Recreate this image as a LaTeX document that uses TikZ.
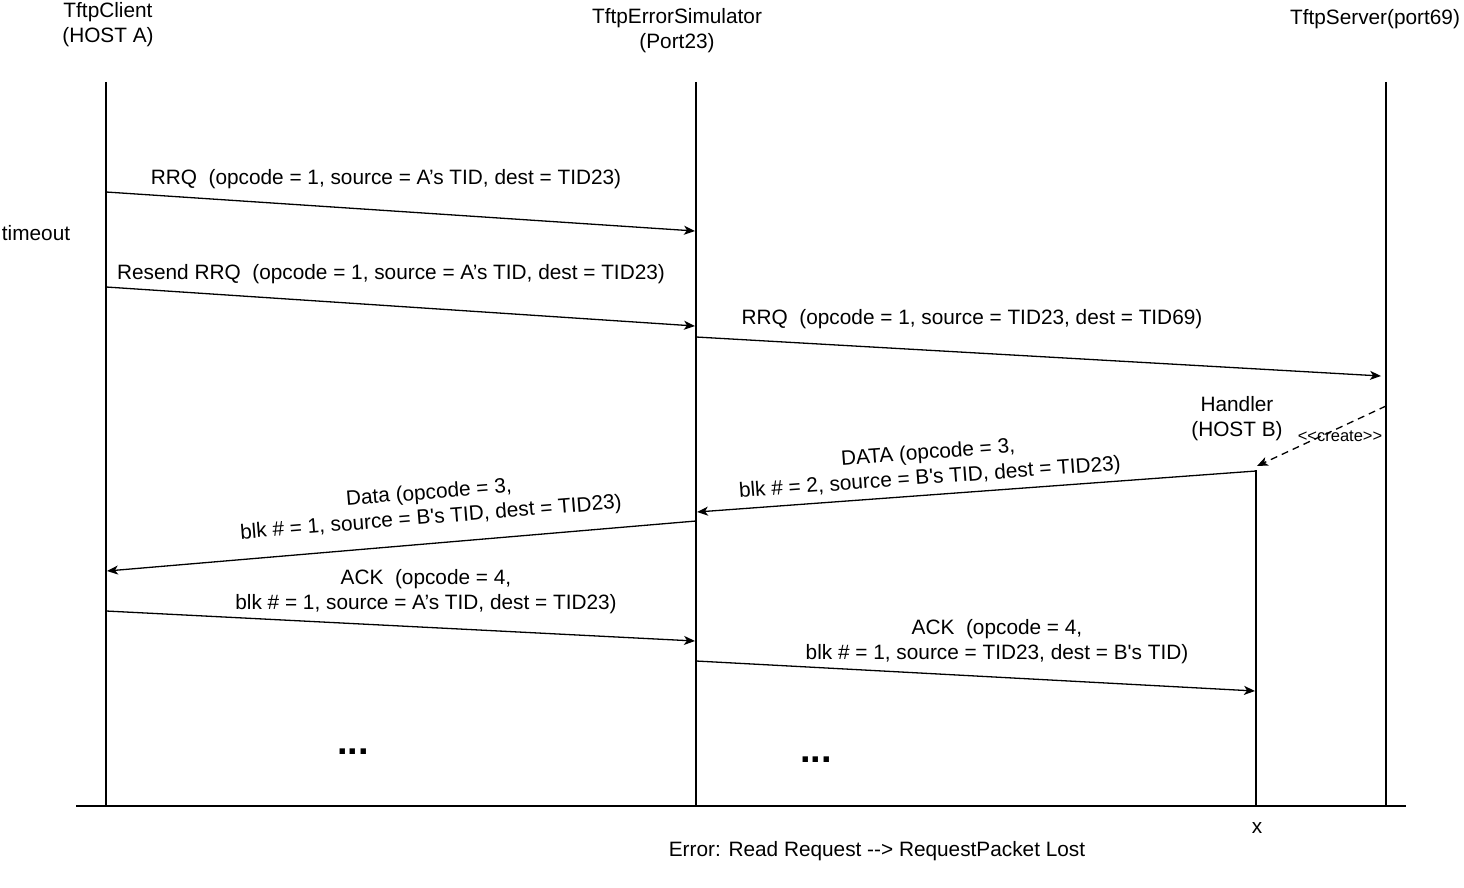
\documentclass[tikz,border=0pt]{standalone}
\usepackage{fontspec}
\newfontfamily\lib{Liberation Sans}
\usetikzlibrary{arrows.meta}
\begin{document}
\begin{tikzpicture}[x=1pt,y=-1pt,
  txt/.style={font=\lib\fontsize{20.8}{25}\selectfont, align=center, inner sep=0pt},
  small/.style={font=\lib\fontsize{16.5}{18}\selectfont, inner sep=0pt},
  dots/.style={font=\lib\bfseries\fontsize{38}{38}\selectfont, inner sep=0pt},
  lifeline/.style={line width=1.6pt, black},
  msg/.style={line width=1.3pt, -{Stealth[length=11pt,width=9pt,inset=3pt]}},
  createmsg/.style={msg, dashed, dash pattern=on 7pt off 5pt}]
\useasboundingbox (0,0) rectangle (1464,888);
% headers
\node[txt] (hA) at (108,25) {TftpClient\\(HOST A)};
\node[txt] (hE) at (677,31) {TftpErrorSimulator\\(Port23)};
\node[txt] (hS) at (1375,19) {TftpServer(port69)};
\node[txt] (hB) at (1237,419) {Handler\\(HOST B)};
\node[txt] (tmo) at (36,233) {timeout};
% lifelines
\coordinate (Atop) at (106,82); \coordinate (Abot) at (106,806);
\coordinate (Etop) at (696,82); \coordinate (Ebot) at (696,806);
\coordinate (Stop) at (1386,82); \coordinate (Sbot) at (1386,806);
\coordinate (Btop) at (1256,470); \coordinate (Bbot) at (1256,806);
\coordinate (gL) at (76,806); \coordinate (gR) at (1406,806);
\draw[lifeline] (Atop) -- (Abot);
\draw[lifeline] (Etop) -- (Ebot);
\draw[lifeline] (Stop) -- (Sbot);
\draw[lifeline] (Btop) -- (Bbot);
\draw[lifeline] (gL) -- (gR);
% message points
\coordinate (a1) at (106,192); \coordinate (e1) at (695,231);
\coordinate (a2) at (106,287); \coordinate (e2) at (695,326);
\coordinate (e3) at (696,337); \coordinate (s3) at (1381,376);
\coordinate (s4) at (1386,406); \coordinate (b4) at (1257,466);
\coordinate (b5) at (1256,471); \coordinate (e5) at (697,512);
\coordinate (e6) at (696,521); \coordinate (a6) at (107,571);
\coordinate (a7) at (106,611); \coordinate (e7) at (695,641);
\coordinate (e8) at (696,661); \coordinate (b8) at (1255,691);
\draw[msg] (a1) -- (e1);
\draw[msg] (a2) -- (e2);
\draw[msg] (e3) -- (s3);
\draw[createmsg] (s4) -- (b4);
\draw[msg] (b5) -- (e5);
\draw[msg] (e6) -- (a6);
\draw[msg] (a7) -- (e7);
\draw[msg] (e8) -- (b8);
% labels
\node[txt] (l1) at (386,179) {RRQ\ \ (opcode = 1, source = A’s TID, dest = TID23)};
\node[txt] (l2) at (391,274) {Resend RRQ\ \ (opcode = 1, source = A’s TID, dest = TID23)};
\node[txt] (l3) at (972,319) {RRQ\ \ (opcode = 1, source = TID23, dest = TID69)};
\node[small] (l4) at (1340,436) {<<create>>};
\node[txt, rotate=4.2] (l5) at (929,466) {DATA (opcode = 3,\\blk \# = 2, source = B's TID, dest = TID23)};
\node[txt, rotate=4.6] (l6) at (430,506) {Data (opcode = 3,\\blk \# = 1, source = B's TID, dest = TID23)};
\node[txt] (l7) at (426,592) {ACK\ \ (opcode = 4,\\blk \# = 1, source = A’s TID, dest = TID23)};
\node[txt] (l8) at (997,642) {ACK\ \ (opcode = 4,\\blk \# = 1, source = TID23, dest = B's TID)};
\node[dots] (d1) at (353,752) {...};
\node[dots] (d2) at (816,760) {...};
\node[txt] (xx) at (1257,828) {x};
\node[txt] (err) at (877,851) {Error: Read Request --> RequestPacket Lost};
\end{tikzpicture}
\end{document}
